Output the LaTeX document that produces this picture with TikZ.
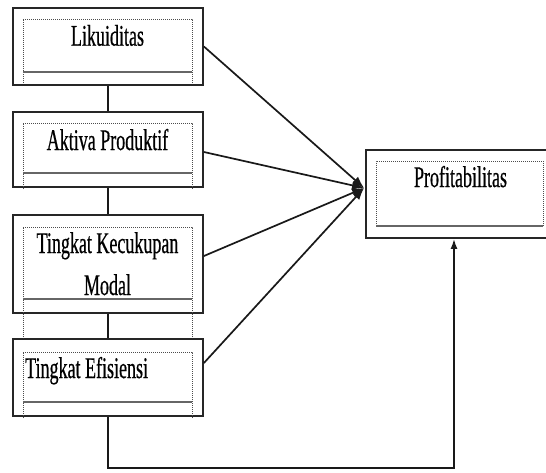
\documentclass[tikz,border=0pt]{standalone}
\usepackage{fontspec}
\setmainfont[FakeStretch=0.6,FakeBold=0.5]{Liberation Serif}
\usetikzlibrary{arrows.meta,calc}
\begin{document}
\begin{tikzpicture}[x=1pt,y=-1pt,
  outerbox/.style={draw=black!85,line width=1.8pt,inner sep=0pt,fill=none},
  txt/.style={inner sep=0pt,font=\fontsize{30}{42}\selectfont,text=black},
  frame/.style={draw=black!70,line width=1pt,dash pattern=on 1pt off 1pt},
  dense/.style={draw=black!60,line width=1.8pt},
  conn/.style={draw=black!90,line width=1.7pt},
  tipa/.style={-{Latex[length=12pt,width=9pt]}},
  tipb/.style={-{Latex[length=10pt,width=7pt]}}]
\clip (0,0) rectangle (546,472);
\fill[white] (0,0) rectangle (546,472);

% outer boxes
\node[outerbox,minimum width=190pt,minimum height=77pt] (b1) at (108,46.5) {};
\node[outerbox,minimum width=190pt,minimum height=75pt] (b2) at (108,149.5) {};
\node[outerbox,minimum width=190pt,minimum height=98pt] (b3) at (108,264) {};
\node[outerbox,minimum width=190pt,minimum height=77pt] (b4) at (108,377.5) {};
\node[outerbox,minimum width=184pt,minimum height=88pt] (p) at (458,194) {};

% inner dotted frames
\draw[frame] (23,83) -- (23,19) -- (192,19) -- (192,83);
\draw[dense] (23,72) -- (192,72);
\draw[frame] (23,189) -- (23,123) -- (192,123) -- (192,189);
\draw[dense] (23,173) -- (192,173);
\draw[frame] (23,337) -- (23,227) -- (192,227) -- (192,337);
\draw[dense] (23,299) -- (192,299);
\draw[frame] (23,418) -- (23,352) -- (192,352) -- (192,418);
\draw[dense] (23,402) -- (192,402);
\draw[frame] (376,226) -- (376,161) -- (543,161) -- (543,226);
\draw[dense] (376,226) -- (543,226);

% texts
\node[txt,anchor=base] (t1) at (107.5,45.7) {Likuiditas};
\node[txt,anchor=base] (t2) at (107.5,150) {Aktiva Produktif};
\node[txt,anchor=base,align=center] (t3) at (107.5,295) {Tingkat Kecukupan\\Modal};
\node[txt,anchor=base west] (t4) at (25,378) {Tingkat Efisiensi};
\node[txt,anchor=base] (tp) at (460.5,187) {Profitabilitas};

% vertical chain
\draw[conn] (b1.south) -- (b2.north);
\draw[conn] (b2.south) -- (b3.north);
\draw[conn] (b3.south) -- (b4.north);

% arrows into Profitabilitas
\coordinate (tip) at ([xshift=-1pt,yshift=6pt]p.west);
\draw[conn,tipa] (b1.east) -- (tip);
\draw[conn,tipa] ([yshift=-2.5pt]b2.east) -- (tip);
\draw[conn,tipa] ([yshift=8pt]b3.east) -- (tip);
\draw[conn,tipa] ([yshift=14.5pt]b4.east) -- (tip);

% bottom feedback path
\coordinate (bend) at ($(b4.south)+(0,51)$);
\draw[conn,tipb] (b4.south) -- (bend) -| ([xshift=-4pt]p.south);
\end{tikzpicture}
\end{document}
